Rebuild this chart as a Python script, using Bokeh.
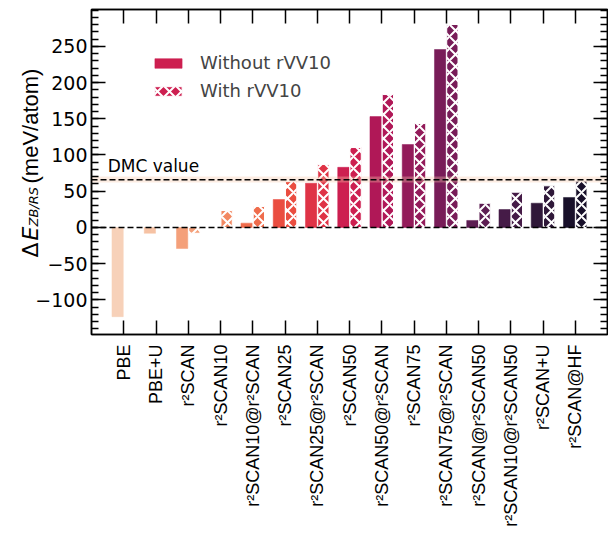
import math
import numpy as np
from bokeh.plotting import figure
from bokeh.layouts import row
from bokeh.models import (Range1d, FixedTicker, LinearAxis, Span, Label, Legend,
                          LegendItem, ColumnDataSource)
from bokeh.core.properties import value
from bokeh.embed import file_html
from bokeh.resources import INLINE

nan = float("nan")

categories = ["PBE", "PBE+U", "r²SCAN", "r²SCAN10", "r²SCAN10@r²SCAN", "r²SCAN25",
              "r²SCAN25@r²SCAN", "r²SCAN50", "r²SCAN50@r²SCAN", "r²SCAN75",
              "r²SCAN75@r²SCAN", "r²SCAN@r²SCAN50", "r²SCAN10@r²SCAN50", "r²SCAN+U",
              "r²SCAN@HF"]
without_rvv10 = [-123.0, -8.0, -29.0, nan, 6.0, 38.6, 61.0, 83.0, 153.0, 114.5,
                 245.5, 9.7, 24.8, 33.5, 41.4]
with_rvv10 = [nan, nan, -8.0, 23.4, 29.0, 63.4, 87.0, 110.3, 183.4, 143.4,
              280.0, 33.5, 48.7, 57.5, 64.0]
colors = ["#f7d1b9", "#f6c2a4", "#f4a07a", "#f28862", "#ef6c4c", "#ea4d40",
          "#df3346", "#cd1f50", "#b01857", "#931b5a", "#781c58", "#5c1d52",
          "#451b47", "#2f1839", "#18102a"]
dmc_value = 65.8
dmc_err = 4.2
y_ticks = [-100, -50, 0, 50, 100, 150, 200, 250]
y_tick_labels = ["−100", "−50", "0", "50", "100", "150", "200", "250"]
y_minor = list(range(-140, 301, 10))

H = 536
SIDE = 89
FRAME_TOP = 9
FRAME_BOTTOM = 334

x = np.arange(len(categories))
src = ColumnDataSource(dict(x_wo=x - 0.19, x_w=x + 0.19, wo=without_rvv10,
                            w=with_rvv10, color=colors))
y_range = Range1d(-147.6, 300.7)

p = figure(width=608 - SIDE, height=H, x_range=Range1d(-1, 15), y_range=y_range,
           output_backend="svg", toolbar_location=None,
           min_border_left=91 - SIDE, min_border_right=1, min_border_top=FRAME_TOP,
           min_border_bottom=H - FRAME_BOTTOM)
p.grid.visible = False
p.outline_line_color = "black"
p.outline_line_width = 1.5

r_wo = p.vbar(x="x_wo", top="wo", bottom=0, width=0.35, source=src,
              fill_color="color", line_color="color", line_width=0.5)
r_w = p.vbar(x="x_w", top="w", bottom=0, width=0.35, source=src,
             fill_color="color", line_color="white", line_width=1,
             hatch_pattern="x", hatch_color="white", hatch_weight=2, hatch_scale=12)

p.hstrip(y0=[dmc_value - dmc_err], y1=[dmc_value + dmc_err],
         fill_color="#f6c8ad", fill_alpha=0.35, line_color=None)
p.add_layout(Span(location=dmc_value, dimension="width", line_color="black",
                  line_width=1.5, line_dash="6 3"))
p.add_layout(Span(location=0, dimension="width", line_color="black",
                  line_width=1.5, line_dash="6 3"))
p.add_layout(Label(x=-0.5, y=70.5, text="DMC value", text_font="DejaVu Sans",
                   text_font_size="17px", text_color="black"))

# axes
xa = p.xaxis[0]
xa.ticker = FixedTicker(ticks=list(range(len(categories))), minor_ticks=[])
xa.major_label_overrides = {i: c for i, c in enumerate(categories)}
xa.major_label_orientation = math.pi / 2
xa.major_label_text_font = "Liberation Sans"
xa.major_label_text_font_size = "18px"
xa.major_label_text_color = "black"
xa.major_label_standoff = 10
ya = p.yaxis[0]
ya.ticker = FixedTicker(ticks=y_ticks, minor_ticks=y_minor)
ya.major_label_overrides = {t: "" for t in y_ticks}
ya.major_label_text_font_size = "0px"
ya.major_label_standoff = 0

top_ax = LinearAxis(ticker=FixedTicker(ticks=list(range(len(categories))), minor_ticks=[]),
                    major_label_overrides={i: "" for i in range(len(categories))},
                    major_label_text_font_size="0px", major_label_standoff=0)
right_ax = LinearAxis(ticker=FixedTicker(ticks=y_ticks, minor_ticks=y_minor),
                      major_label_overrides={t: "" for t in y_ticks},
                      major_label_text_font_size="0px", major_label_standoff=0)
p.add_layout(top_ax, "above")
p.add_layout(right_ax, "right")

for ax in [xa, ya, top_ax, right_ax]:
    ax.axis_line_color = "black"
    ax.axis_line_width = 1.5
    ax.major_tick_in = 14
    ax.major_tick_out = 0
    ax.minor_tick_in = 7
    ax.minor_tick_out = 0
    ax.major_tick_line_width = 1.5
    ax.minor_tick_line_width = 1.5
    ax.major_tick_line_color = "black"
    ax.minor_tick_line_color = "black"

legend = Legend(items=[LegendItem(label="Without rVV10", renderers=[r_wo], index=7),
                       LegendItem(label="With rVV10", renderers=[r_w], index=7)],
                location=(60, 233), glyph_width=34, glyph_height=12, label_standoff=15,
                label_text_font="DejaVu Sans", label_text_font_size="18px",
                label_height=20, spacing=7, padding=0, margin=0,
                border_line_alpha=0, background_fill_alpha=0)
p.add_layout(legend)

# left strip: y tick numbers (sharing the y range; frames are aligned) and the
# rotated y-axis title built from pieces (Δ, italic E, italic subscript)
q = figure(width=SIDE, height=H, x_range=Range1d(0, SIDE), y_range=y_range,
           output_backend="svg", toolbar_location=None, min_border=0,
           x_axis_location=None, y_axis_location=None)
q.grid.visible = False
q.outline_line_color = None
q.text(x=[SIDE - 2] * len(y_ticks), y=y_ticks, text=y_tick_labels,
       text_font=value("DejaVu Sans"), text_font_size="19px", text_color="black",
       text_align="right", text_baseline="middle")

lab_kw = dict(y_units="screen", angle=90, angle_units="deg",
              text_color="black", text_baseline="alphabetic", text_align="left")
q.add_layout(Label(x=30, y=FRAME_BOTTOM - 257, text="Δ", text_font="DejaVu Sans",
                   text_font_size="22px", **lab_kw))
q.add_layout(Label(x=30, y=FRAME_BOTTOM - 240, text="E", text_font="DejaVu Sans",
                   text_font_size="22px", text_font_style="italic", **lab_kw))
q.add_layout(Label(x=33, y=FRAME_BOTTOM - 226, text="ZB/RS", text_font="DejaVu Sans",
                   text_font_size="13px", text_font_style="italic", **lab_kw))
q.add_layout(Label(x=30, y=FRAME_BOTTOM - 183, text="(meV/atom)", text_font="Liberation Sans",
                   text_font_size="22px", **lab_kw))

layout = row(q, p, spacing=0)
open("out.html", "w").write(file_html(layout, INLINE))
